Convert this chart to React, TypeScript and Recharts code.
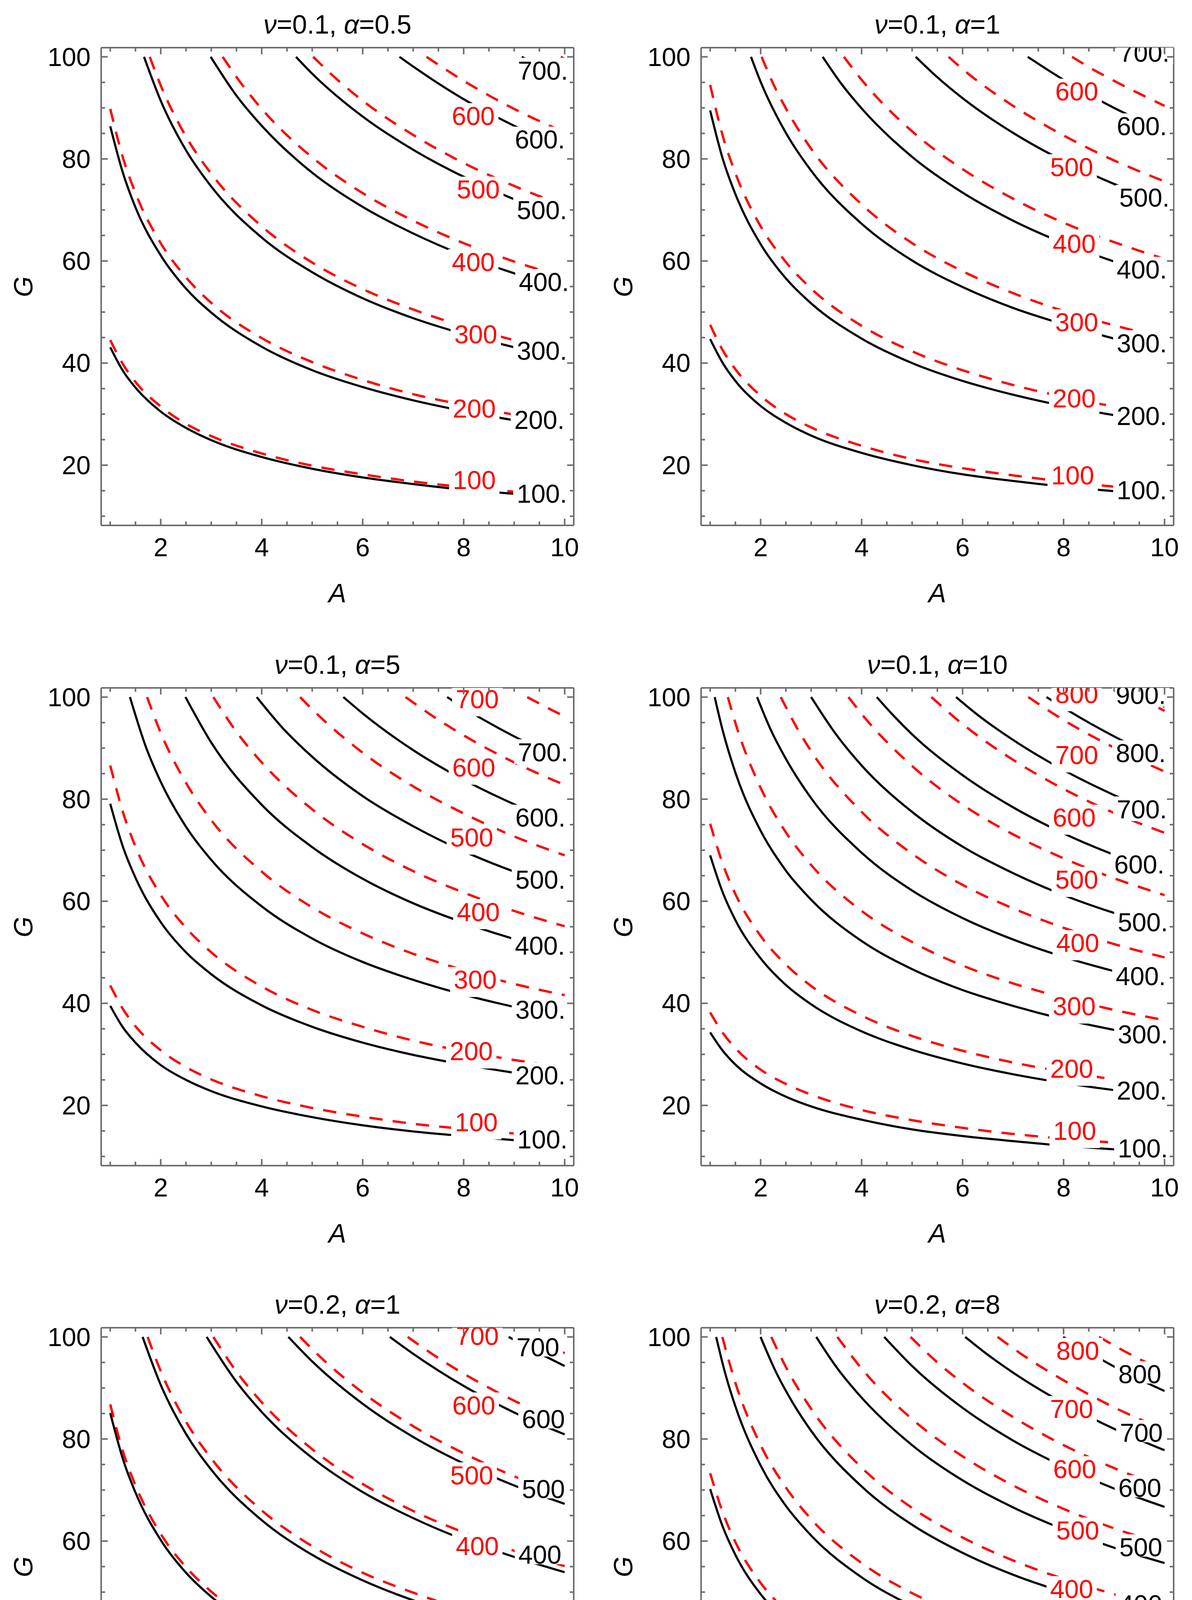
import React from 'react';
import { LineChart, Line, XAxis, YAxis, ReferenceDot } from 'recharts';

// ---- axes ----
const X_TICKS = [1, 1.5, 2, 2.5, 3, 3.5, 4, 4.5, 5, 5.5, 6, 6.5, 7, 7.5, 8, 8.5, 9, 9.5, 10];
const X_MAJOR = [2, 4, 6, 8, 10];
const Y_TICKS = [10, 15, 20, 25, 30, 35, 40, 45, 50, 55, 60, 65, 70, 75, 80, 85, 90, 95, 100];
const Y_MAJOR = [20, 40, 60, 80, 100];
const X_DOMAIN = [0.82, 10.18];
const Y_DOMAIN = [8.2, 101.8];

// ---- panel 1: v=0.1, alpha=0.5 ----
const P1_BLACK_LEVELS = [100, 200, 300, 400, 500, 600, 700];
const P1_RED_LEVELS = [100, 200, 300, 400, 500, 600];
const P1_BLACK = [
  [[1, 43.1], [1.25, 38.5], [1.5, 35.2], [2, 30.5], [2.5, 27.3], [3, 24.9], [4, 21.6], [5, 19.3], [6, 17.6], [7, 16.3], [8, 15.2], [9, 14.4], [10, 13.6]],
  [[1, 86.4], [1.25, 77.3], [1.5, 70.5], [2, 61.1], [2.5, 54.6], [3, 49.9], [4, 43.2], [5, 38.6], [6, 35.3], [7, 32.7], [8, 30.6], [9, 28.8], [10, 27.3]],
  [[1.669, 100], [2, 91.4], [2.5, 81.7], [3, 74.6], [4, 64.6], [5, 57.8], [6, 52.7], [7, 48.8], [8, 45.7], [9, 43.1], [10, 40.9]],
  [[2.989, 100], [3.5, 92.4], [4, 86.5], [5, 77.3], [6, 70.6], [7, 65.4], [8, 61.1], [9, 57.6], [10, 54.7]],
  [[4.679, 100], [5, 96.7], [6, 88.3], [7, 81.8], [8, 76.5], [9, 72.1], [10, 68.4]],
  [[6.729, 100], [7, 98.1], [8, 91.7], [9, 86.5], [10, 82.0]],
  [[9.151, 100], [9.5, 98.1], [10, 95.7]],
];
const P1_RED = [
  [[1, 44.5], [1.25, 39.8], [1.5, 36.3], [2, 31.5], [2.5, 28.1], [3, 25.7], [4, 22.3], [5, 19.9], [6, 18.2], [7, 16.8], [8, 15.7], [9, 14.8], [10, 14.1]],
  [[1, 89.8], [1.25, 80.3], [1.5, 73.3], [2, 63.5], [2.5, 56.8], [3, 51.8], [4, 44.9], [5, 40.2], [6, 36.7], [7, 33.9], [8, 31.8], [9, 29.9], [10, 28.4]],
  [[1.782, 100], [2, 94.4], [2.5, 84.4], [3, 77.1], [4, 66.8], [5, 59.7], [6, 54.5], [7, 50.5], [8, 47.2], [9, 44.5], [10, 42.2]],
  [[3.226, 100], [3.6, 94.7], [4, 89.8], [5, 80.3], [6, 73.3], [7, 67.9], [8, 63.5], [9, 59.9], [10, 56.8]],
  [[5.018, 100], [5.5, 95.5], [6, 91.4], [7, 84.7], [8, 79.2], [9, 74.7], [10, 70.8]],
  [[7.263, 100], [8, 95.3], [9, 89.8], [10, 85.2]],
  [[9.923, 100], [10, 99.6]],
];
const P1_RED_LABELS = [[8.21, 17.1], [8.21, 31.1], [8.24, 45.6], [8.19, 59.8], [8.29, 74.0], [8.19, 88.4]];
const P1_BLACK_LABELS = [[9.55, 14.4], [9.5, 28.9], [9.55, 42.4], [9.59, 55.9], [9.55, 70.0], [9.51, 83.8], [9.57, 97.3]];

// ---- panel 2: v=0.1, alpha=1 ----
const P2_BLACK_LEVELS = [100, 200, 300, 400, 500, 600, 700];
const P2_RED_LEVELS = [100, 200, 300, 400, 500, 600];
const P2_BLACK = [
  [[1, 44.7], [1.25, 40.0], [1.5, 36.5], [2, 31.6], [2.5, 28.3], [3, 25.8], [4, 22.4], [5, 20.0], [6, 18.2], [7, 16.9], [8, 15.8], [9, 14.9], [10, 14.1]],
  [[1, 89.5], [1.25, 80.0], [1.5, 73.1], [2, 63.3], [2.5, 56.6], [3, 51.7], [4, 44.8], [5, 40.0], [6, 36.5], [7, 33.8], [8, 31.6], [9, 29.8], [10, 28.3]],
  [[1.809, 100], [2, 95.1], [2.5, 85.1], [3, 77.7], [4, 67.3], [5, 60.1], [6, 54.9], [7, 50.8], [8, 47.6], [9, 44.8], [10, 42.5]],
  [[3.229, 100], [3.6, 94.7], [4, 89.9], [5, 80.4], [6, 73.4], [7, 67.9], [8, 63.5], [9, 59.9], [10, 56.8]],
  [[5.071, 100], [5.5, 96.0], [6, 91.9], [7, 85.1], [8, 79.6], [9, 75.1], [10, 71.2]],
  [[7.29, 100], [8, 95.5], [9, 90.0], [10, 85.4]],
];
const P2_RED = [
  [[1, 47.5], [1.25, 42.5], [1.5, 38.8], [2, 33.6], [2.5, 30.0], [3, 27.4], [4, 23.8], [5, 21.2], [6, 19.4], [7, 18.0], [8, 16.8], [9, 15.8], [10, 15.0]],
  [[1, 94.5], [1.25, 84.5], [1.5, 77.2], [2, 66.8], [2.5, 59.8], [3, 54.6], [4, 47.3], [5, 42.3], [6, 38.6], [7, 35.7], [8, 33.4], [9, 31.5], [10, 29.9]],
  [[2.019, 100], [2.25, 94.7], [2.5, 89.9], [3, 82.0], [4, 71.1], [5, 63.5], [6, 58.0], [7, 53.7], [8, 50.2], [9, 47.4], [10, 44.9]],
  [[3.648, 100], [4, 95.5], [5, 85.4], [6, 78.0], [7, 72.2], [8, 67.5], [9, 63.7], [10, 60.4]],
  [[5.722, 100], [6, 97.6], [7, 90.4], [8, 84.6], [9, 79.7], [10, 75.6]],
  [[8.168, 100], [8.5, 98.0], [9, 95.3], [10, 90.4]],
];
const P2_RED_LABELS = [[8.18, 18.0], [8.21, 33.1], [8.26, 48.0], [8.21, 63.4], [8.16, 78.4], [8.26, 93.2]];
const P2_BLACK_LABELS = [[9.55, 15.1], [9.55, 29.6], [9.55, 43.9], [9.55, 58.3], [9.6, 72.4], [9.55, 86.4], [9.6, 100.8]];

// ---- panel 3: v=0.1, alpha=5 ----
const P3_BLACK_LEVELS = [100, 200, 300, 400, 500, 600, 700];
const P3_RED_LEVELS = [100, 200, 300, 400, 500, 600, 700];
const P3_BLACK = [
  [[1, 39.5], [1.25, 35.3], [1.5, 32.3], [2, 27.9], [2.5, 25.0], [3, 22.8], [4, 19.8], [5, 17.7], [6, 16.1], [7, 14.9], [8, 14.0], [9, 13.2], [10, 12.5]],
  [[1, 79.1], [1.25, 70.7], [1.5, 64.6], [2, 55.9], [2.5, 50.0], [3, 45.7], [4, 39.6], [5, 35.4], [6, 32.3], [7, 29.9], [8, 28.0], [9, 26.4], [10, 25.0]],
  [[1.39, 100], [1.7, 90.4], [2, 83.4], [2.5, 74.6], [3, 68.1], [4, 59.0], [5, 52.7], [6, 48.1], [7, 44.6], [8, 41.7], [9, 39.3], [10, 37.3]],
  [[2.49, 100], [3, 91.1], [4, 78.9], [5, 70.6], [6, 64.4], [7, 59.6], [8, 55.8], [9, 52.6], [10, 49.9]],
  [[3.901, 100], [4.4, 94.1], [5, 88.3], [6, 80.6], [7, 74.7], [8, 69.8], [9, 65.8], [10, 62.5]],
  [[5.617, 100], [6, 96.8], [7, 89.6], [8, 83.8], [9, 79.0], [10, 74.9]],
  [[7.673, 100], [8, 97.9], [9, 92.3], [10, 87.6]],
];
const P3_RED = [
  [[1, 43.5], [1.25, 38.9], [1.5, 35.5], [2, 30.8], [2.5, 27.5], [3, 25.1], [4, 21.8], [5, 19.5], [6, 17.8], [7, 16.4], [8, 15.4], [9, 14.5], [10, 13.8]],
  [[1, 86.6], [1.25, 77.5], [1.5, 70.7], [2, 61.2], [2.5, 54.8], [3, 50.0], [4, 43.3], [5, 38.7], [6, 35.4], [7, 32.7], [8, 30.6], [9, 28.9], [10, 27.4]],
  [[1.729, 100], [2, 93.0], [2.5, 83.2], [3, 75.9], [4, 65.8], [5, 58.8], [6, 53.7], [7, 49.7], [8, 46.5], [9, 43.8], [10, 41.6]],
  [[3.042, 100], [3.5, 93.2], [4, 87.2], [5, 78.0], [6, 71.2], [7, 65.9], [8, 61.7], [9, 58.1], [10, 55.1]],
  [[4.761, 100], [5, 97.6], [6, 89.1], [7, 82.5], [8, 77.2], [9, 72.7], [10, 69.0]],
  [[6.849, 100], [7.4, 96.2], [8, 92.5], [9, 87.2], [10, 82.8]],
  [[9.26, 100], [9.6, 98.2], [10, 96.2]],
];
const P3_RED_LABELS = [[8.25, 16.7], [8.15, 30.6], [8.23, 44.6], [8.29, 57.9], [8.16, 72.5], [8.2, 86.2], [8.27, 99.6]];
const P3_BLACK_LABELS = [[9.56, 13.3], [9.52, 25.9], [9.52, 38.7], [9.51, 51.3], [9.52, 64.2], [9.52, 76.4], [9.57, 89.2]];

// ---- panel 4: v=0.1, alpha=10 ----
const P4_BLACK_LEVELS = [100, 200, 300, 400, 500, 600, 700, 800, 900];
const P4_RED_LEVELS = [100, 200, 300, 400, 500, 600, 700, 800];
const P4_BLACK = [
  [[1, 34.3], [1.25, 30.7], [1.5, 28.0], [2, 24.3], [2.5, 21.7], [3, 19.8], [4, 17.2], [5, 15.3], [6, 14.0], [7, 13.0], [8, 12.1], [9, 11.4], [10, 10.8]],
  [[1, 69.0], [1.25, 61.7], [1.5, 56.3], [2, 48.8], [2.5, 43.6], [3, 39.8], [4, 34.5], [5, 30.9], [6, 28.2], [7, 26.1], [8, 24.4], [9, 23.0], [10, 21.8]],
  [[1.09, 100], [1.25, 93.4], [1.5, 85.2], [2, 73.8], [2.5, 66.0], [3, 60.3], [4, 52.2], [5, 46.7], [6, 42.6], [7, 39.5], [8, 36.9], [9, 34.8], [10, 33.0]],
  [[1.929, 100], [2.2, 93.6], [2.5, 87.9], [3, 80.2], [4, 69.5], [5, 62.1], [6, 56.7], [7, 52.5], [8, 49.1], [9, 46.3], [10, 43.9]],
  [[3.0, 100], [3.5, 92.6], [4, 86.6], [5, 77.5], [6, 70.7], [7, 65.5], [8, 61.2], [9, 57.7], [10, 54.8]],
  [[4.3, 100], [4.6, 96.7], [5, 92.7], [6, 84.7], [7, 78.4], [8, 73.3], [9, 69.1], [10, 65.6]],
  [[5.871, 100], [6.3, 96.5], [7, 91.6], [8, 85.7], [9, 80.8], [10, 76.6]],
  [[7.662, 100], [8, 97.9], [9, 92.3], [10, 87.5]],
  [[9.628, 100], [10, 98.1]],
];
const P4_RED = [
  [[1, 38.2], [1.25, 34.2], [1.5, 31.2], [2, 27.0], [2.5, 24.2], [3, 22.1], [4, 19.1], [5, 17.1], [6, 15.6], [7, 14.4], [8, 13.5], [9, 12.7], [10, 12.1]],
  [[1, 75.2], [1.25, 67.3], [1.5, 61.4], [2, 53.2], [2.5, 47.6], [3, 43.4], [4, 37.6], [5, 33.6], [6, 30.7], [7, 28.4], [8, 26.6], [9, 25.1], [10, 23.8]],
  [[1.35, 100], [1.5, 94.9], [2, 82.2], [2.5, 73.5], [3, 67.1], [4, 58.1], [5, 52.0], [6, 47.4], [7, 43.9], [8, 41.1], [9, 38.7], [10, 36.7]],
  [[2.399, 100], [2.7, 94.3], [3, 89.4], [4, 77.5], [5, 69.3], [6, 63.2], [7, 58.6], [8, 54.8], [9, 51.6], [10, 49.0]],
  [[3.74, 100], [4, 96.7], [5, 86.5], [6, 78.9], [7, 73.1], [8, 68.4], [9, 64.5], [10, 61.2]],
  [[5.382, 100], [6, 94.7], [7, 87.7], [8, 82.0], [9, 77.3], [10, 73.4]],
  [[7.301, 100], [8, 95.5], [9, 90.1], [10, 85.4]],
  [[9.468, 100], [10, 97.3]],
];
const P4_RED_LABELS = [[8.22, 15.0], [8.16, 27.2], [8.21, 39.4], [8.28, 51.8], [8.26, 64.2], [8.21, 76.4], [8.26, 88.6], [8.26, 100.6]];
const P4_BLACK_LABELS = [[9.57, 11.6], [9.55, 22.9], [9.57, 33.9], [9.53, 45.3], [9.57, 55.9], [9.5, 67.2], [9.55, 78.0], [9.53, 89.0], [9.53, 100.4]];

// ---- panel 5: v=0.2, alpha=1 ----
const P5_BLACK_LEVELS = [100, 200, 300, 400, 500, 600, 700];
const P5_RED_LEVELS = [100, 200, 300, 400, 500, 600, 700];
const P5_BLACK = [
  [[1, 42.6], [1.25, 38.1], [1.5, 34.8], [2, 30.1], [2.5, 26.9], [3, 24.6], [4, 21.3], [5, 19.1], [6, 17.4], [7, 16.1], [8, 15.1], [9, 14.2], [10, 13.5]],
  [[1, 85.1], [1.25, 76.1], [1.5, 69.5], [2, 60.2], [2.5, 53.8], [3, 49.1], [4, 42.6], [5, 38.1], [6, 34.7], [7, 32.2], [8, 30.1], [9, 28.4], [10, 26.9]],
  [[1.641, 100], [2, 90.6], [2.5, 81.0], [3, 74.0], [4, 64.1], [5, 57.3], [6, 52.3], [7, 48.4], [8, 45.3], [9, 42.7], [10, 40.5]],
  [[2.91, 100], [3.5, 91.2], [4, 85.3], [5, 76.3], [6, 69.6], [7, 64.5], [8, 60.3], [9, 56.9], [10, 53.9]],
  [[4.528, 100], [5, 95.2], [6, 86.9], [7, 80.4], [8, 75.2], [9, 70.9], [10, 67.3]],
  [[6.538, 100], [7, 96.7], [8, 90.4], [9, 85.2], [10, 80.9]],
  [[8.892, 100], [9.4, 97.3], [10, 94.3]],
];
const P5_RED = [
  [[1, 43.3], [1.25, 38.7], [1.5, 35.4], [2, 30.6], [2.5, 27.4], [3, 25.0], [4, 21.7], [5, 19.4], [6, 17.7], [7, 16.4], [8, 15.3], [9, 14.4], [10, 13.7]],
  [[1, 86.8], [1.25, 77.6], [1.5, 70.9], [2, 61.4], [2.5, 54.9], [3, 50.1], [4, 43.4], [5, 38.8], [6, 35.4], [7, 32.8], [8, 30.7], [9, 28.9], [10, 27.4]],
  [[1.74, 100], [2, 93.3], [2.5, 83.4], [3, 76.2], [4, 66.0], [5, 59.0], [6, 53.8], [7, 49.9], [8, 46.6], [9, 44.0], [10, 41.7]],
  [[3.042, 100], [3.5, 93.2], [4, 87.2], [5, 78.0], [6, 71.2], [7, 65.9], [8, 61.7], [9, 58.1], [10, 55.1]],
  [[4.761, 100], [5, 97.6], [6, 89.1], [7, 82.5], [8, 77.2], [9, 72.7], [10, 69.0]],
  [[6.891, 100], [7.4, 96.5], [8, 92.8], [9, 87.5], [10, 83.0]],
  [[9.364, 100], [10, 96.8]],
];
const P5_RED_LABELS = [[8.25, 17.3], [8.16, 31.0], [8.25, 45.1], [8.27, 59.0], [8.16, 72.9], [8.2, 86.6], [8.27, 100.2]];
const P5_BLACK_LABELS = [[9.58, 16.3], [9.51, 30.3], [9.47, 43.7], [9.51, 57.3], [9.58, 70.2], [9.58, 83.9], [9.47, 98.0]];

// ---- panel 6: v=0.2, alpha=8 ----
const P6_BLACK_LEVELS = [100, 200, 300, 400, 500, 600, 700, 800];
const P6_RED_LEVELS = [100, 200, 300, 400, 500, 600, 700, 800];
const P6_BLACK = [
  [[1, 35.1], [1.25, 31.4], [1.5, 28.7], [2, 24.8], [2.5, 22.2], [3, 20.3], [4, 17.6], [5, 15.7], [6, 14.3], [7, 13.3], [8, 12.4], [9, 11.7], [10, 11.1]],
  [[1, 70.2], [1.25, 62.8], [1.5, 57.3], [2, 49.6], [2.5, 44.4], [3, 40.5], [4, 35.1], [5, 31.4], [6, 28.7], [7, 26.5], [8, 24.8], [9, 23.4], [10, 22.2]],
  [[1.119, 100], [1.3, 92.8], [1.5, 86.4], [2, 74.8], [2.5, 66.9], [3, 61.1], [4, 52.9], [5, 47.3], [6, 43.2], [7, 40.0], [8, 37.4], [9, 35.3], [10, 33.5]],
  [[1.999, 100], [2.3, 93.2], [2.6, 87.7], [3, 81.6], [4, 70.7], [5, 63.2], [6, 57.7], [7, 53.4], [8, 50.0], [9, 47.1], [10, 44.7]],
  [[3.101, 100], [3.5, 94.1], [4, 88.1], [5, 78.8], [6, 71.9], [7, 66.6], [8, 62.3], [9, 58.7], [10, 55.7]],
  [[4.448, 100], [5, 94.3], [6, 86.1], [7, 79.7], [8, 74.6], [9, 70.3], [10, 66.7]],
  [[6.052, 100], [6.5, 96.5], [7, 93.0], [8, 87.0], [9, 82.0], [10, 77.8]],
  [[7.992, 100], [8.5, 97.0], [9, 94.2], [10, 89.4]],
];
const P6_RED = [
  [[1, 36.9], [1.25, 33.0], [1.5, 30.1], [2, 26.1], [2.5, 23.3], [3, 21.3], [4, 18.5], [5, 16.5], [6, 15.1], [7, 13.9], [8, 13.0], [9, 12.3], [10, 11.7]],
  [[1, 73.3], [1.25, 65.6], [1.5, 59.8], [2, 51.8], [2.5, 46.4], [3, 42.3], [4, 36.7], [5, 32.8], [6, 29.9], [7, 27.7], [8, 25.9], [9, 24.4], [10, 23.2]],
  [[1.241, 100], [1.5, 91.0], [2, 78.8], [2.5, 70.5], [3, 64.3], [4, 55.7], [5, 49.8], [6, 45.5], [7, 42.1], [8, 39.4], [9, 37.1], [10, 35.2]],
  [[2.211, 100], [2.5, 94.1], [3, 85.9], [4, 74.4], [5, 66.5], [6, 60.7], [7, 56.2], [8, 52.6], [9, 49.6], [10, 47.0]],
  [[3.519, 100], [4, 93.8], [5, 83.9], [6, 76.6], [7, 70.9], [8, 66.3], [9, 62.5], [10, 59.3]],
  [[4.969, 100], [5.5, 95.0], [6, 91.0], [7, 84.3], [8, 78.8], [9, 74.3], [10, 70.5]],
  [[6.693, 100], [7.2, 96.4], [8, 91.5], [9, 86.2], [10, 81.8]],
  [[8.703, 100], [9.3, 96.7], [10, 93.3]],
];
const P6_RED_LABELS = [[8.16, 15.1], [8.26, 27.1], [8.22, 38.6], [8.16, 50.6], [8.28, 62.1], [8.22, 74.1], [8.16, 85.9], [8.28, 97.3]];
const P6_BLACK_LABELS = [[9.51, 14.1], [9.53, 25.3], [9.51, 36.5], [9.53, 47.6], [9.53, 58.8], [9.51, 70.4], [9.54, 81.2], [9.51, 92.7]];

// ---- look ----
const FONT = '"Liberation Sans", Arial, Helvetica, sans-serif';
const FRAME = '#6e6e6e';
const RED = '#ff0000';
const FS = 66;
const CHART_W = 1510;
const CHART_H = 1560;
const PLOT = { left: 259, top: 122, width: 1210, height: 1223 };
const MARGIN = {
  left: PLOT.left - 1,
  top: PLOT.top - 1,
  right: CHART_W - PLOT.left - PLOT.width - 1,
  bottom: CHART_H - PLOT.top - PLOT.height - 1,
};

const toPts = (arr: number[][]) => arr.map(([A, G]) => ({ A, G }));

function BottomTick({ x, y, payload }: any) {
  const major = X_MAJOR.includes(payload.value);
  return (
    <g>
      <line x1={x} x2={x} y1={y} y2={y - (major ? 17 : 10)} stroke={FRAME} strokeWidth={4} />
      {major && (
        <text x={x} y={y + 79} textAnchor="middle" fontSize={FS} fontFamily={FONT} fill="#000">
          {payload.value}
        </text>
      )}
    </g>
  );
}

function TopTick({ x, y, payload }: any) {
  const major = X_MAJOR.includes(payload.value);
  return <line x1={x} x2={x} y1={y} y2={y + (major ? 17 : 10)} stroke={FRAME} strokeWidth={4} />;
}

function LeftTick({ x, y, payload }: any) {
  const major = Y_MAJOR.includes(payload.value);
  return (
    <g>
      <line x1={x} x2={x + (major ? 17 : 10)} y1={y} y2={y} stroke={FRAME} strokeWidth={4} />
      {major && (
        <text x={x - 27} y={y + 23} textAnchor="end" fontSize={FS} fontFamily={FONT} fill="#000">
          {payload.value}
        </text>
      )}
    </g>
  );
}

function RightTick({ x, y, payload }: any) {
  const major = Y_MAJOR.includes(payload.value);
  return <line x1={x} x2={x - (major ? 17 : 10)} y1={y} y2={y} stroke={FRAME} strokeWidth={4} />;
}

// label drawn Mathematica-style: a white box breaks the black contour underneath
function ContourLabel({ cx, cy, clipPath, text, color, below }: any) {
  const w = text.replace('.', '').length * 37 + (text.includes('.') ? 18 : 0) + 18;
  return (
    <g clipPath={clipPath}>
      <rect x={cx - w / 2} y={cy - 33} width={w} height={33 + below} fill="#fff" />
      <text x={cx} y={cy + 23} textAnchor="middle" fontSize={FS} fontFamily={FONT} fill={color}>
        {text}
      </text>
    </g>
  );
}

function Panel({ left, top, nu, alpha, black, red, blackLevels, redLevels, redLabels, blackLabels, dotted }: any) {
  const cx = PLOT.left + PLOT.width / 2;
  const frameLine = { stroke: FRAME, strokeWidth: 4 };
  return (
    <div style={{ position: 'absolute', left, top, width: CHART_W, height: CHART_H, fontFamily: FONT }}>
      <LineChart width={CHART_W} height={CHART_H} margin={MARGIN}>
        <XAxis xAxisId="b" dataKey="A" type="number" domain={X_DOMAIN} allowDataOverflow ticks={X_TICKS}
          interval={0} height={1} tickSize={0} tickMargin={0} tickLine={false} axisLine={frameLine}
          tick={(p: any) => <BottomTick {...p} />} />
        <XAxis xAxisId="t" orientation="top" dataKey="A" type="number" domain={X_DOMAIN} allowDataOverflow ticks={X_TICKS}
          interval={0} height={1} tickSize={0} tickMargin={0} tickLine={false} axisLine={frameLine}
          tick={(p: any) => <TopTick {...p} />} />
        <YAxis yAxisId="l" type="number" domain={Y_DOMAIN} allowDataOverflow ticks={Y_TICKS}
          interval={0} width={1} tickSize={0} tickMargin={0} tickLine={false} axisLine={frameLine}
          tick={(p: any) => <LeftTick {...p} />} />
        <YAxis yAxisId="r" orientation="right" type="number" domain={Y_DOMAIN} allowDataOverflow ticks={Y_TICKS}
          interval={0} width={1} tickSize={0} tickMargin={0} tickLine={false} axisLine={frameLine}
          tick={(p: any) => <RightTick {...p} />} />

        {black.map((pts: number[][], i: number) => (
          <Line key={'k' + blackLevels[i]} xAxisId="b" yAxisId="l" data={toPts(pts)} dataKey="G" type="monotone"
            stroke="#000" strokeWidth={5.5} dot={false} activeDot={false} isAnimationActive={false} />
        ))}

        {redLabels.map(([a, g]: number[], i: number) => (
          <ReferenceDot key={'rl' + i} xAxisId="b" yAxisId="l" x={a} y={g} r={0} ifOverflow="hidden"
            shape={(p: any) => <ContourLabel {...p} text={String(redLevels[i])} color={RED} below={44} />} />
        ))}
        {blackLabels.map(([a, g]: number[], i: number) => (
          <ReferenceDot key={'bl' + i} xAxisId="b" yAxisId="l" x={a} y={g} r={0} ifOverflow="hidden"
            shape={(p: any) => (
              <ContourLabel {...p} text={blackLevels[i] + (dotted ? '.' : '')} color="#000" below={dotted ? 30 : 24} />
            )} />
        ))}

        {red.map((pts: number[][], i: number) => (
          <Line key={'r' + redLevels[i]} xAxisId="b" yAxisId="l" data={toPts(pts)} dataKey="G" type="monotone"
            stroke={RED} strokeWidth={6} strokeDasharray="34 26" dot={false} activeDot={false}
            isAnimationActive={false} />
        ))}
      </LineChart>

      <div style={{ position: 'absolute', left: cx, top: PLOT.top - 60, transform: 'translate(-50%, -50%)',
        fontSize: 68, lineHeight: 1, whiteSpace: 'nowrap', color: '#000' }}>
        <i>ν</i>={nu}, <i>α</i>={alpha}
      </div>
      <div style={{ position: 'absolute', left: cx, top: PLOT.top + PLOT.height + 173,
        transform: 'translate(-50%, -50%)', fontSize: 68, lineHeight: 1, fontStyle: 'italic' }}>
        A
      </div>
      <div style={{ position: 'absolute', left: PLOT.left - 200, top: PLOT.top + PLOT.height / 2,
        transform: 'translate(-50%, -50%) rotate(-90deg)', fontSize: 68, lineHeight: 1, fontStyle: 'italic' }}>
        G
      </div>
    </div>
  );
}

export default function App() {
  // in normal flow so the page keeps its full height; negative margin cancels the body margin
  return (
    <div style={{ position: 'relative', width: 3052, height: 4840, margin: '-8px 0 0 -8px', background: '#fff', overflow: 'hidden' }}>
      <Panel left={0} top={0} nu="0.1" alpha="0.5" black={P1_BLACK} red={P1_RED} blackLevels={P1_BLACK_LEVELS}
        redLevels={P1_RED_LEVELS} redLabels={P1_RED_LABELS} blackLabels={P1_BLACK_LABELS} dotted />
      <Panel left={1536} top={0} nu="0.1" alpha="1" black={P2_BLACK} red={P2_RED} blackLevels={P2_BLACK_LEVELS}
        redLevels={P2_RED_LEVELS} redLabels={P2_RED_LABELS} blackLabels={P2_BLACK_LABELS} dotted />
      <Panel left={0} top={1639} nu="0.1" alpha="5" black={P3_BLACK} red={P3_RED} blackLevels={P3_BLACK_LEVELS}
        redLevels={P3_RED_LEVELS} redLabels={P3_RED_LABELS} blackLabels={P3_BLACK_LABELS} dotted />
      <Panel left={1536} top={1639} nu="0.1" alpha="10" black={P4_BLACK} red={P4_RED} blackLevels={P4_BLACK_LEVELS}
        redLevels={P4_RED_LEVELS} redLabels={P4_RED_LABELS} blackLabels={P4_BLACK_LABELS} dotted />
      <Panel left={0} top={3277} nu="0.2" alpha="1" black={P5_BLACK} red={P5_RED} blackLevels={P5_BLACK_LEVELS}
        redLevels={P5_RED_LEVELS} redLabels={P5_RED_LABELS} blackLabels={P5_BLACK_LABELS} dotted={false} />
      <Panel left={1536} top={3277} nu="0.2" alpha="8" black={P6_BLACK} red={P6_RED} blackLevels={P6_BLACK_LEVELS}
        redLevels={P6_RED_LEVELS} redLabels={P6_RED_LABELS} blackLabels={P6_BLACK_LABELS} dotted={false} />
    </div>
  );
}
